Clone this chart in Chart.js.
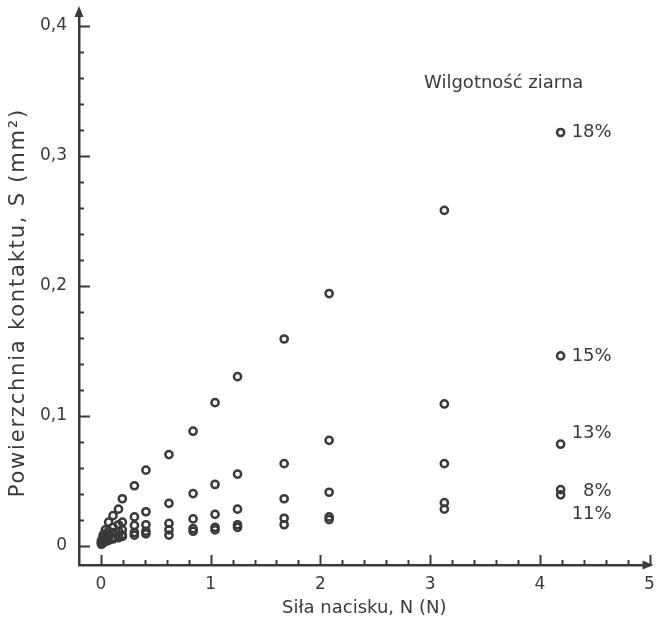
<!DOCTYPE html>
<html><head><meta charset="utf-8">
<script src="https://cdn.jsdelivr.net/npm/chart.js@4"></script>
<style>html,body{margin:0;padding:0;background:#fff}</style>
</head><body>
<canvas id="c" width="656" height="619"></canvas>
<script>
// ---- data ----
const forceN = [0.005, 0.02, 0.04, 0.07, 0.11, 0.16, 0.195, 0.305, 0.41, 0.62, 0.84, 1.04, 1.245, 1.67, 2.08, 3.13, 4.19];
const area18 = [0.004, 0.008, 0.012, 0.018, 0.023, 0.028, 0.036, 0.046, 0.058, 0.070, 0.088, 0.110, 0.130, 0.159, 0.194, 0.258, 0.318];
const area15 = [0.003, 0.006, 0.009, 0.011, 0.014, 0.016, 0.018, 0.022, 0.026, 0.0325, 0.040, 0.047, 0.055, 0.063, 0.081, 0.109, 0.146];
const area13 = [0.002, 0.004, 0.006, 0.008, 0.010, 0.011, 0.012, 0.0155, 0.016, 0.017, 0.0205, 0.024, 0.028, 0.036, 0.041, 0.063, 0.078];
const area8  = [0.002, 0.003, 0.004, 0.005, 0.006, 0.007, 0.008, 0.010, 0.011, 0.012, 0.013, 0.014, 0.016, 0.021, 0.022, 0.033, 0.043];
const area11 = [0.001, 0.002, 0.003, 0.004, 0.005, 0.006, 0.007, 0.008, 0.009, 0.008, 0.011, 0.012, 0.014, 0.016, 0.020, 0.028, 0.039];
const seriesNames = ['18%', '15%', '13%', '8%', '11%'];
const legendTitle = 'Wilgotność ziarna';
const xTicks = [0, 1, 2, 3, 4, 5];
const yTicks = [0, 0.1, 0.2, 0.3, 0.4];
const xTitle = 'Siła nacisku, N (N)';
const yTitle = 'Powierzchnia kontaktu, S (mm²)';

const INK = '#3a3a3a';
const FONT = 'DejaVu Sans';
const allSeries = [area18, area15, area13, area8, area11];

const datasets = allSeries.map((arr, i) => ({
  label: seriesNames[i],
  data: forceN.map((x, j) => ({x: x, y: arr[j]})),
  pointStyle: 'circle',
  pointRadius: 3.6,
  pointBorderWidth: 2.5,
  pointBorderColor: INK,
  pointBackgroundColor: 'rgba(0,0,0,0)',
  showLine: false
}));

// label vertical offsets (px) relative to the last point of each series
const labelDy = [0, 0, -11, 2, 19];

const decor = {
  id: 'decor',
  afterDraw(chart) {
    const c = chart.ctx, xs = chart.scales.x, ys = chart.scales.y;
    const ax = xs.getPixelForValue(xs.min), ay = ys.getPixelForValue(ys.min);
    c.save();
    c.strokeStyle = INK; c.fillStyle = INK; c.lineWidth = 2;
    for (let k = 0; k <= 20; k++) {
      const py = Math.round(ys.getPixelForValue(k * 0.02)) + 0.5;
      const len = (k % 5 === 0) ? 11 : 5;
      c.beginPath(); c.moveTo(ax, py); c.lineTo(ax + len, py); c.stroke();
    }
    for (let k = 0; k <= 25; k++) {
      const px = Math.round(xs.getPixelForValue(k * 0.2)) + 0.5;
      const len = (k % 5 === 0) ? 10 : 5;
      c.beginPath(); c.moveTo(px, ay); c.lineTo(px, ay - len); c.stroke();
    }
    const top = chart.chartArea.top, right = chart.chartArea.right;
    c.lineWidth = 2.5;
    c.beginPath(); c.moveTo(ax, top); c.lineTo(ax, top - 3); c.stroke();
    c.beginPath(); c.moveTo(ax, top - 7); c.lineTo(ax - 4.5, top + 4); c.lineTo(ax + 4.5, top + 4); c.closePath(); c.fill();
    c.beginPath(); c.moveTo(right + 4, ay); c.lineTo(right - 7, ay - 4.5); c.lineTo(right - 7, ay + 4.5); c.closePath(); c.fill();
    c.font = '18px "' + FONT + '"';
    c.textBaseline = 'middle';
    c.textAlign = 'left';
    c.fillText(legendTitle, xs.getPixelForValue(2.945), ys.getPixelForValue(0.356));
    c.textAlign = 'right';
    allSeries.forEach((arr, i) => {
      const n = arr.length - 1;
      const px = xs.getPixelForValue(forceN[n]) + 51;
      const py = ys.getPixelForValue(arr[n]) + labelDy[i];
      c.fillText(seriesNames[i], px, py);
    });
    // y-axis title (wide, letter-spaced like the original)
    c.save();
    c.translate(19, ys.getPixelForValue(0.187));
    c.rotate(-Math.PI / 2);
    c.font = '21px "' + FONT + '"';
    c.letterSpacing = '1.8px';
    c.textAlign = 'center';
    c.textBaseline = 'middle';
    c.fillText(yTitle, 0, 0);
    c.restore();
    c.restore();
  }
};

new Chart(document.getElementById('c'), {
  type: 'scatter',
  data: {datasets},
  plugins: [decor],
  options: {
    responsive: false,
    animation: false,
    layout: {padding: {top: 13, right: 5, bottom: 0, left: 0}},
    plugins: {legend: {display: false}, tooltip: {enabled: false}},
    scales: {
      x: {
        type: 'linear', min: -0.2, max: 5,
        grid: {display: false, drawTicks: false},
        border: {display: true, color: INK, width: 2.5},
        afterBuildTicks(s) { s.ticks = xTicks.map(v => ({value: v})); },
        ticks: {padding: 9, color: INK, font: {family: FONT, size: 17}, callback: v => String(v)},
        title: {display: true, text: xTitle, color: INK, font: {family: FONT, size: 18}, padding: {top: 2, bottom: 0}},
        afterFit(s) { s.height = 54; s.paddingLeft = 0; s.paddingRight = 0; }
      },
      y: {
        type: 'linear', min: -0.015, max: 0.41,
        grid: {display: false, drawTicks: false},
        border: {display: true, color: INK, width: 2.5},
        afterBuildTicks(s) { s.ticks = yTicks.map(v => ({value: v})); },
        ticks: {padding: 12, color: INK, font: {family: FONT, size: 17},
          callback: v => v === 0 ? '0' : v.toFixed(1).replace('.', ',')},
        title: {display: false, text: yTitle},
        afterFit(s) { s.width = 79; s.paddingTop = 0; s.paddingBottom = 0; }
      }
    }
  }
});
</script>
</body></html>
